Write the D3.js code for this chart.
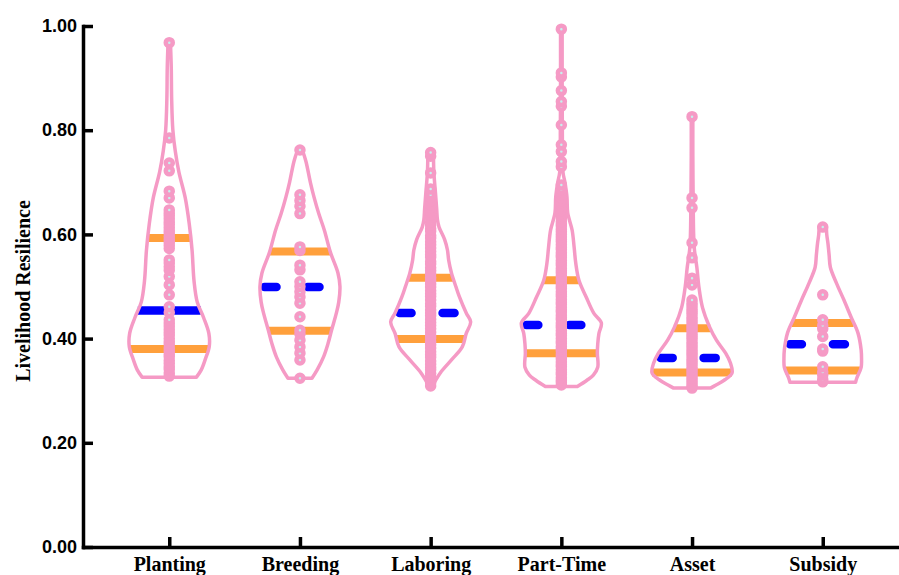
<!DOCTYPE html>
<html>
<head>
<meta charset="utf-8">
<script src="https://cdn.jsdelivr.net/npm/d3@7"></script>
<style>
  html, body { margin: 0; padding: 0; background: #ffffff; }
  svg { display: block; }
</style>
</head>
<body>
<script>
// ---- Data ----
const categories = ["Planting", "Breeding", "Laboring", "Part-Time", "Asset", "Subsidy"];
const yTicks = [0, 0.2, 0.4, 0.6, 0.8, 1.0];

// Quartiles per category
const q1Values     = [0.380, 0.415, 0.399, 0.372, 0.335, 0.339];
const medianValues = [0.454, 0.499, 0.449, 0.426, 0.363, 0.389];
const q3Values     = [0.593, 0.567, 0.517, 0.512, 0.420, 0.430];

// Kernel density profiles: [value, relative density]
const plantingDensity = [[0.968,0.03],[0.92,0.05],[0.86,0.06],[0.80,0.09],[0.76,0.15],[0.72,0.24],[0.67,0.40],[0.62,0.50],[0.57,0.57],[0.51,0.62],[0.47,0.70],[0.44,0.86],[0.41,0.99],[0.385,1.0],[0.36,0.90],[0.34,0.80],[0.326,0.68]];
const breedingDensity = [[0.762,0.06],[0.74,0.15],[0.70,0.26],[0.672,0.35],[0.64,0.47],[0.608,0.61],[0.566,0.76],[0.526,0.95],[0.50,1.0],[0.47,0.97],[0.449,0.91],[0.416,0.79],[0.39,0.70],[0.365,0.59],[0.34,0.43],[0.324,0.30]];
const laboringDensity = [[0.757,0.07],[0.72,0.08],[0.68,0.12],[0.65,0.15],[0.628,0.17],[0.614,0.21],[0.59,0.35],[0.57,0.42],[0.551,0.45],[0.526,0.52],[0.50,0.63],[0.48,0.72],[0.449,0.89],[0.432,1.0],[0.41,0.89],[0.384,0.79],[0.359,0.52],[0.334,0.24],[0.307,0.03]];
const partTimeDensity = [[0.994,0.02],[0.95,0.02],[0.90,0.02],[0.80,0.025],[0.72,0.04],[0.70,0.09],[0.672,0.14],[0.641,0.16],[0.608,0.27],[0.575,0.32],[0.545,0.36],[0.512,0.44],[0.48,0.62],[0.449,0.81],[0.43,1.0],[0.41,0.94],[0.39,0.91],[0.372,0.90],[0.345,0.91],[0.33,0.80],[0.32,0.64],[0.308,0.40]];
const assetDensity    = [[0.826,0.02],[0.75,0.02],[0.65,0.03],[0.60,0.04],[0.57,0.06],[0.537,0.12],[0.50,0.17],[0.46,0.26],[0.422,0.44],[0.397,0.61],[0.372,0.84],[0.353,0.96],[0.334,1.0],[0.321,0.82],[0.311,0.60],[0.305,0.46]];
const subsidyDensity  = [[0.615,0.09],[0.60,0.10],[0.583,0.13],[0.56,0.16],[0.537,0.19],[0.507,0.34],[0.474,0.53],[0.441,0.71],[0.411,0.88],[0.378,0.96],[0.36,0.97],[0.345,0.96],[0.324,0.85],[0.316,0.82]];

// Individual observations
const plantingPoints = [0.968,0.785,0.737,0.722,0.683,0.670,0.647,0.641,0.636,0.630,0.624,0.619,0.613,0.607,0.602,0.596,0.590,0.585,0.579,0.573,0.551,0.545,0.538,0.531,0.519,0.503,0.484,0.461,0.450,0.436,0.430,0.424,0.418,0.412,0.407,0.400,0.394,0.389,0.382,0.376,0.370,0.365,0.358,0.352,0.346,0.341,0.334,0.328];
const breedingPoints = [0.762,0.676,0.665,0.654,0.640,0.576,0.569,0.541,0.532,0.509,0.500,0.490,0.480,0.468,0.442,0.416,0.409,0.397,0.384,0.372,0.359,0.324];
const laboringPoints = [0.757,0.750,0.718,0.687,0.676,0.671,0.664,0.657,0.651,0.644,0.637,0.631,0.624,0.618,0.611,0.606,0.598,0.593,0.586,0.580,0.574,0.567,0.561,0.556,0.548,0.543,0.536,0.530,0.524,0.517,0.511,0.505,0.499,0.492,0.486,0.481,0.474,0.467,0.462,0.455,0.449,0.444,0.437,0.431,0.425,0.419,0.412,0.406,0.401,0.394,0.388,0.382,0.375,0.369,0.364,0.357,0.351,0.345,0.340,0.333,0.327,0.321,0.315,0.309];
const partTimePoints = [0.994,0.910,0.902,0.876,0.855,0.846,0.810,0.772,0.759,0.740,0.730,0.695,0.686,0.681,0.676,0.670,0.665,0.661,0.655,0.650,0.646,0.640,0.635,0.631,0.625,0.620,0.616,0.610,0.605,0.600,0.595,0.590,0.586,0.580,0.575,0.571,0.565,0.560,0.556,0.550,0.545,0.541,0.535,0.530,0.526,0.520,0.515,0.511,0.505,0.500,0.496,0.490,0.485,0.481,0.475,0.470,0.466,0.460,0.455,0.451,0.445,0.440,0.436,0.430,0.425,0.421,0.415,0.410,0.406,0.400,0.395,0.391,0.385,0.380,0.376,0.370,0.365,0.361,0.355,0.350,0.346,0.340,0.335,0.331,0.325,0.320,0.316,0.311];
const assetPoints    = [0.826,0.670,0.651,0.584,0.555,0.516,0.503,0.474,0.468,0.463,0.457,0.452,0.447,0.441,0.436,0.431,0.425,0.420,0.415,0.409,0.404,0.399,0.393,0.388,0.383,0.377,0.372,0.367,0.361,0.356,0.351,0.345,0.340,0.335,0.329,0.324,0.319,0.314,0.309,0.305];
const subsidyPoints  = [0.614,0.484,0.436,0.425,0.419,0.404,0.380,0.376,0.346,0.336,0.330,0.322,0.317];

const densities = [plantingDensity, breedingDensity, laboringDensity, partTimeDensity, assetDensity, subsidyDensity];
const pointSets = [plantingPoints, breedingPoints, laboringPoints, partTimePoints, assetPoints, subsidyPoints];

// ---- Styles ----
const PINK = "#f59ac5";
const ORANGE = "#ffa03c";
const BLUE = "#0000ff";
const DOT_FILL = "#c6f0ee";
const medianDashed = [false, true, true, true, true, true];

// ---- Layout ----
const W = 899, H = 575;
const svg = d3.select("body").append("svg").attr("width", W).attr("height", H);

const y = d3.scaleLinear().domain([0, 1]).range([547, 26]);
const x = d3.scalePoint().domain(categories).range([83, 909]).padding(0.66);
const halfWidth = d3.scaleLinear().domain([0, 1]).range([0, 40]);

const plot = svg.append("g");

categories.forEach((cat, i) => {
  const cx = x(cat);
  const prof = densities[i].slice().sort((a, b) => a[0] - b[0]);
  const dens = d3.scaleLinear().domain(prof.map(d => d[0])).range(prof.map(d => d[1])).clamp(true);

  const area = d3.area()
    .curve(d3.curveCatmullRom.alpha(0.5))
    .y(d => y(d[0]))
    .x0(d => cx - halfWidth(d[1]))
    .x1(d => cx + halfWidth(d[1]));

  const g = plot.append("g").attr("class", "violin");

  // white body
  g.append("path").datum(prof).attr("d", area).attr("fill", "#ffffff").attr("stroke", "none");

  // quartile lines
  [q1Values[i], q3Values[i]].forEach(v => {
    const w = halfWidth(dens(v));
    g.append("line")
      .attr("x1", cx - w).attr("x2", cx + w)
      .attr("y1", y(v)).attr("y2", y(v))
      .attr("stroke", ORANGE).attr("stroke-width", 8);
  });

  // median line
  const m = medianValues[i];
  const mw = halfWidth(dens(m));
  const med = g.append("line")
    .attr("y1", y(m)).attr("y2", y(m))
    .attr("stroke", BLUE).attr("stroke-width", 8.5);
  if (medianDashed[i]) {
    med.attr("x1", cx - mw + 4.5).attr("x2", cx + mw)
      .attr("stroke-linecap", "round")
      .attr("stroke-dasharray", "12,31");
  } else {
    med.attr("x1", cx - mw).attr("x2", cx + mw);
  }

  // outline
  g.append("path").datum(prof).attr("d", area)
    .attr("fill", "none").attr("stroke", PINK).attr("stroke-width", 3.5)
    .attr("stroke-linejoin", "round");

  // observations, lowest first
  const pts = pointSets[i].slice().sort((a, b) => a - b);
  g.selectAll("circle").data(pts).join("circle")
    .attr("cx", cx).attr("cy", d => y(d)).attr("r", 3.5)
    .attr("fill", DOT_FILL).attr("stroke", PINK).attr("stroke-width", 4.5);
});

// ---- Axes ----
const yAxis = svg.append("g").attr("transform", "translate(83,0)")
  .call(d3.axisLeft(y).tickValues(yTicks).tickFormat(d3.format(".2f"))
    .tickSizeInner(-10).tickSizeOuter(0).tickPadding(6));
yAxis.selectAll("text")
  .attr("font-family", "'Liberation Sans', Arial, sans-serif")
  .attr("font-weight", "bold").attr("font-size", 18).attr("fill", "#000");

const xAxis = svg.append("g").attr("transform", "translate(0,547)")
  .call(d3.axisBottom(x).tickSizeInner(-10).tickSizeOuter(0).tickPadding(10));
xAxis.selectAll("text")
  .attr("font-family", "'Liberation Serif', 'Times New Roman', serif")
  .attr("font-weight", "bold").attr("font-size", 20).attr("fill", "#000");

[yAxis, xAxis].forEach(a => {
  a.select(".domain").attr("stroke", "#000").attr("stroke-width", 3.5).attr("stroke-linecap", "square");
  a.selectAll(".tick line").attr("stroke", "#000").attr("stroke-width", 3.5);
});

svg.append("text")
  .attr("transform", "translate(30,291) rotate(-90)")
  .attr("text-anchor", "middle")
  .attr("font-family", "'Liberation Serif', 'Times New Roman', serif")
  .attr("font-weight", "bold").attr("font-size", 20)
  .text("Livelihood Resilience");
</script>
</body>
</html>
